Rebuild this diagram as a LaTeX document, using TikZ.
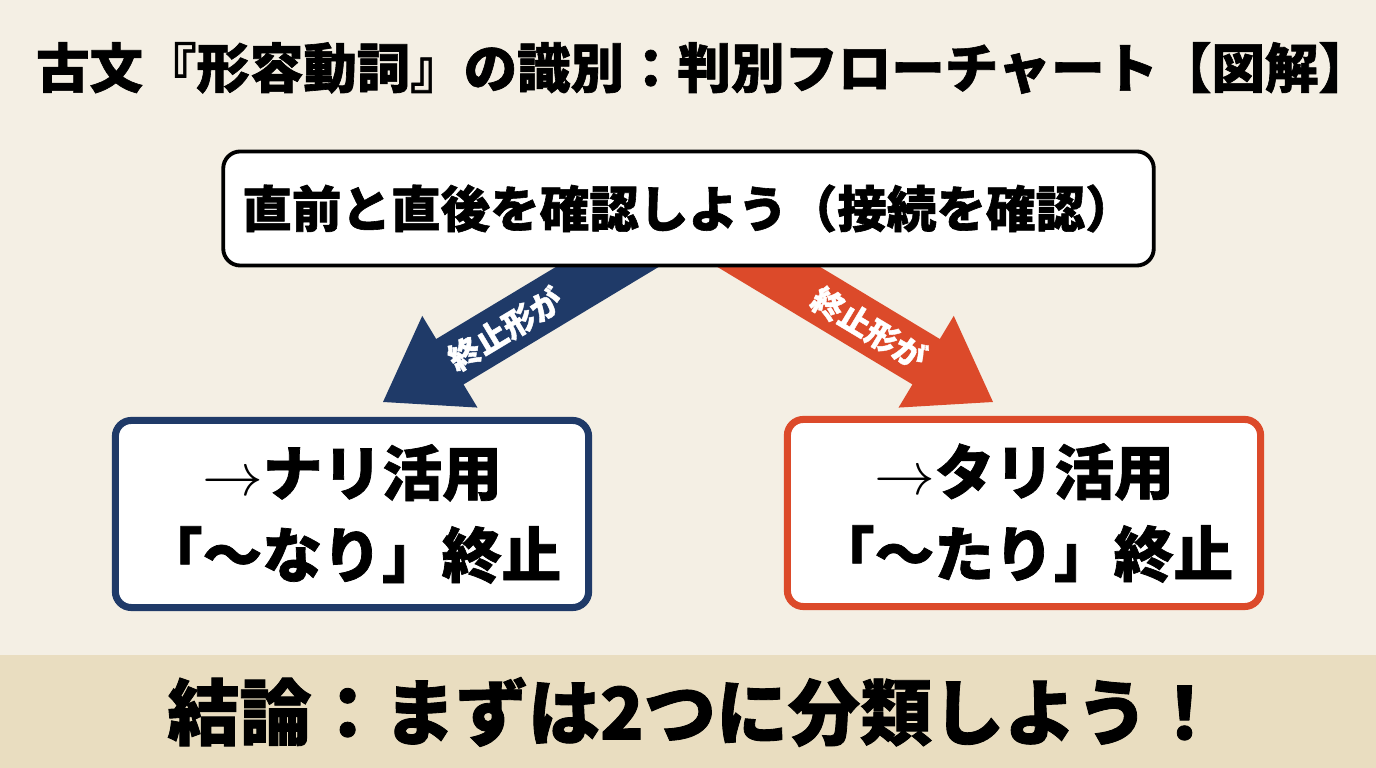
\documentclass[tikz,border=0pt]{standalone}
\usepackage{fontspec}
\setmainfont{Noto Sans CJK JP}[BoldFeatures={FakeBold=1.2}]
\usetikzlibrary{calc}
\definecolor{paper}{HTML}{F4EFE4}
\definecolor{band}{HTML}{E9DDC0}
\definecolor{navy}{HTML}{1F3A68}
\definecolor{brick}{HTML}{DC4A2A}
\newcommand\fatarrow[3]{%
  \coordinate (#1h) at ($(#2)!0.78cm!(#1)$);
  \fill[#3] ($(#1)!0.265cm!90:(#2)$) -- ($(#1h)!0.265cm!90:(#2)$) -- ($(#1h)!0.535cm!90:(#2)$) -- (#2)
    -- ($(#1h)!0.535cm!-90:(#2)$) -- ($(#1h)!0.265cm!-90:(#2)$) -- ($(#1)!0.265cm!-90:(#2)$) -- cycle;}
\tikzset{
  jpb/.style={font=\bfseries\fontsize{#1}{#1}\selectfont},
  topbox/.style={draw=black, line width=1.1pt, fill=white, rounded corners=0.17cm,
    minimum width=9.3cm, minimum height=1.14cm},
  resbox/.style={draw=#1, line width=2pt, fill=white, rounded corners=0.16cm,
    minimum width=4.73cm, minimum height=1.87cm, align=center,
    font=\bfseries\fontsize{17pt}{23.3pt}\selectfont},
  lbl/.style={text=white, font=\bfseries\fontsize{9pt}{9pt}\selectfont}
}
\begin{document}
\begin{tikzpicture}[x=0.01cm,y=-0.01cm]
\useasboundingbox (0,0) rectangle (1376,768);
\fill[paper] (0,0) rectangle (1376,768);
\fill[band] (0,655) rectangle (1376,768);
% arrow anchors
\coordinate (bs) at (657,237);
\coordinate (bt) at (383,402);
\coordinate (rs) at (719,237);
\coordinate (rt) at (993,402);
\fatarrow{bs}{bt}{navy}
\fatarrow{rs}{rt}{brick}
% boxes
\node[topbox, jpb=14.1pt] (top) at (688.5,208.5) {直前と直後を確認しよう（接続を確認）};
\node[resbox=navy] (nari) at (352,514) {$\rightarrow$ナリ活用\\「〜なり」終止};
\node[resbox=brick] (tari) at (1024,513) {$\rightarrow$タリ活用\\「〜たり」終止};
% arrow labels
\node[lbl, rotate=31] (lb) at (505,329) {終止形が};
\node[lbl, rotate=-31] (lr) at (869,328) {終止形が};
% title and conclusion
\node[jpb=15.2pt] (title) at (704,68) {古文『形容動詞』の識別：判別フローチャート【図解】};
\node[jpb=20.5pt] (concl) at (694,712) {結論：まずは2つに分類しよう！};
\end{tikzpicture}
\end{document}
